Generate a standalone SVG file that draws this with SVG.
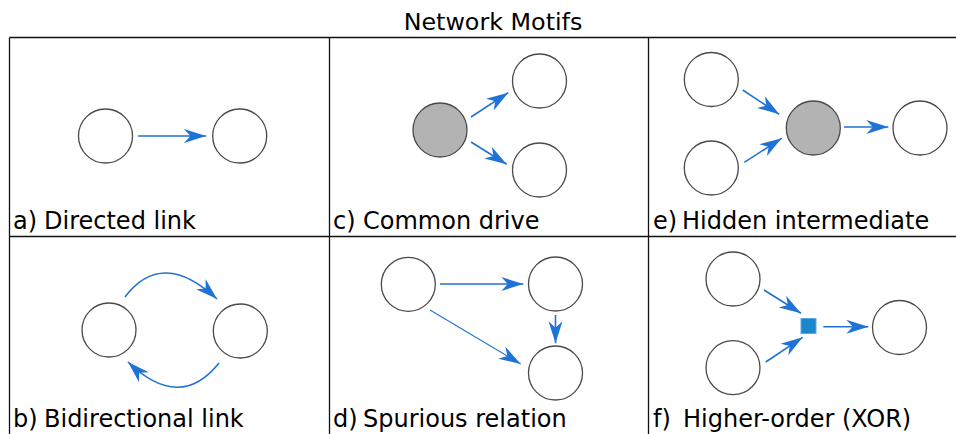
<svg xmlns="http://www.w3.org/2000/svg" width="956" height="434" viewBox="0 0 956 434">
<style>
.grid{stroke:#111;stroke-width:1.3;fill:none}
.node{fill:#fff;stroke:#4a4a4a;stroke-width:1.3}
.hidden{fill:#b3b3b3;stroke:#4a4a4a;stroke-width:1.3}
.edge{stroke:#1f72d6;stroke-width:1.6;fill:none;marker-end:url(#ah)}
.thin{stroke-width:1.1}
.title{font-family:"DejaVu Sans",sans-serif;font-size:23.8px;fill:#000}
.lbl{font-family:"DejaVu Sans",sans-serif;font-size:24px;fill:#000}
</style>
<defs>
<marker id="ah" markerUnits="userSpaceOnUse" markerWidth="26" markerHeight="18" viewBox="-24 -9 26 18" refX="0" refY="0" orient="auto">
<path d="M0,0 L-22,-7 L-15.5,0 L-22,7 Z" fill="#1f72d6"/>
</marker>
</defs>
<rect width="956" height="434" fill="#fff"/>
<text class="title" x="493" y="30" text-anchor="middle">Network Motifs</text>
<g id="grid">
<path class="grid" d="M9.5,37.5 H956 M9.5,236.5 H956 M9.5,37.5 V434 M329.5,37.5 V434 M648.5,37.5 V434"/>
</g>
<g id="labels">
<text class="lbl" x="13" y="229">a)</text><text class="lbl" x="44" y="229">Directed link</text>
<text class="lbl" x="333" y="229">c)</text><text class="lbl" x="363" y="229">Common drive</text>
<text class="lbl" x="653" y="229">e)</text><text class="lbl" x="682" y="229">Hidden intermediate</text>
<text class="lbl" x="13" y="427">b)</text><text class="lbl" x="44" y="427">Bidirectional link</text>
<text class="lbl" x="333" y="427">d)</text><text class="lbl" x="363" y="427">Spurious relation</text>
<text class="lbl" x="653" y="427">f)</text><text class="lbl" x="683" y="427">Higher-order (XOR)</text>
</g>
<g id="a1"><circle class="node" cx="105.5" cy="136" r="27"/></g>
<g id="a2"><circle class="node" cx="239.7" cy="136" r="27"/></g>
<g id="c1"><circle class="hidden" cx="440" cy="130" r="27"/></g>
<g id="c2"><circle class="node" cx="539.5" cy="81" r="27"/></g>
<g id="c3"><circle class="node" cx="539.5" cy="170" r="27"/></g>
<g id="e1"><circle class="node" cx="711.3" cy="79.5" r="27"/></g>
<g id="e2"><circle class="node" cx="711.3" cy="168" r="27"/></g>
<g id="e3"><circle class="hidden" cx="813.3" cy="128" r="27"/></g>
<g id="e4"><circle class="node" cx="920" cy="128" r="27"/></g>
<g id="b1"><circle class="node" cx="109" cy="330" r="27"/></g>
<g id="b2"><circle class="node" cx="240.3" cy="331" r="27"/></g>
<g id="d1"><circle class="node" cx="408.3" cy="284.3" r="27"/></g>
<g id="d2"><circle class="node" cx="555.5" cy="284" r="27"/></g>
<g id="d3"><circle class="node" cx="555.5" cy="373" r="27"/></g>
<g id="f1"><circle class="node" cx="733" cy="279" r="27"/></g>
<g id="f2"><circle class="node" cx="733" cy="367.7" r="27"/></g>
<g id="f4"><circle class="node" cx="899.5" cy="327.5" r="27"/></g>
<g id="f3"><rect x="801" y="318.5" width="15" height="15" fill="#1a86cc" stroke="#5aaae6" stroke-width="1"/></g>
<g id="connectors">
<path class="edge" d="M138,136 L206,136"/>
<path class="edge" d="M471,117 L508.3,92.7"/>
<path class="edge" d="M471,142 L506.7,164.3"/>
<path class="edge" d="M742.7,90 L779.3,114.3"/>
<path class="edge" d="M744.3,162.3 L781.7,138.3"/>
<path class="edge" d="M844,127 L888.3,127"/>
<path class="edge" d="M125,297 Q162,248 217,299"/>
<path class="edge" d="M219,363 Q180,412 128,362"/>
<path class="edge" d="M440,284 L523.3,284"/>
<path class="edge" d="M555.5,315 L555.5,343.3"/>
<path class="edge thin" d="M430,310 L520.7,364"/>
<path class="edge" d="M764,290 L801,313.3"/>
<path class="edge" d="M765.7,362 L802.7,337.3"/>
<path class="edge" d="M823.3,326.7 L868.3,326.7"/>
</g>
</svg>
